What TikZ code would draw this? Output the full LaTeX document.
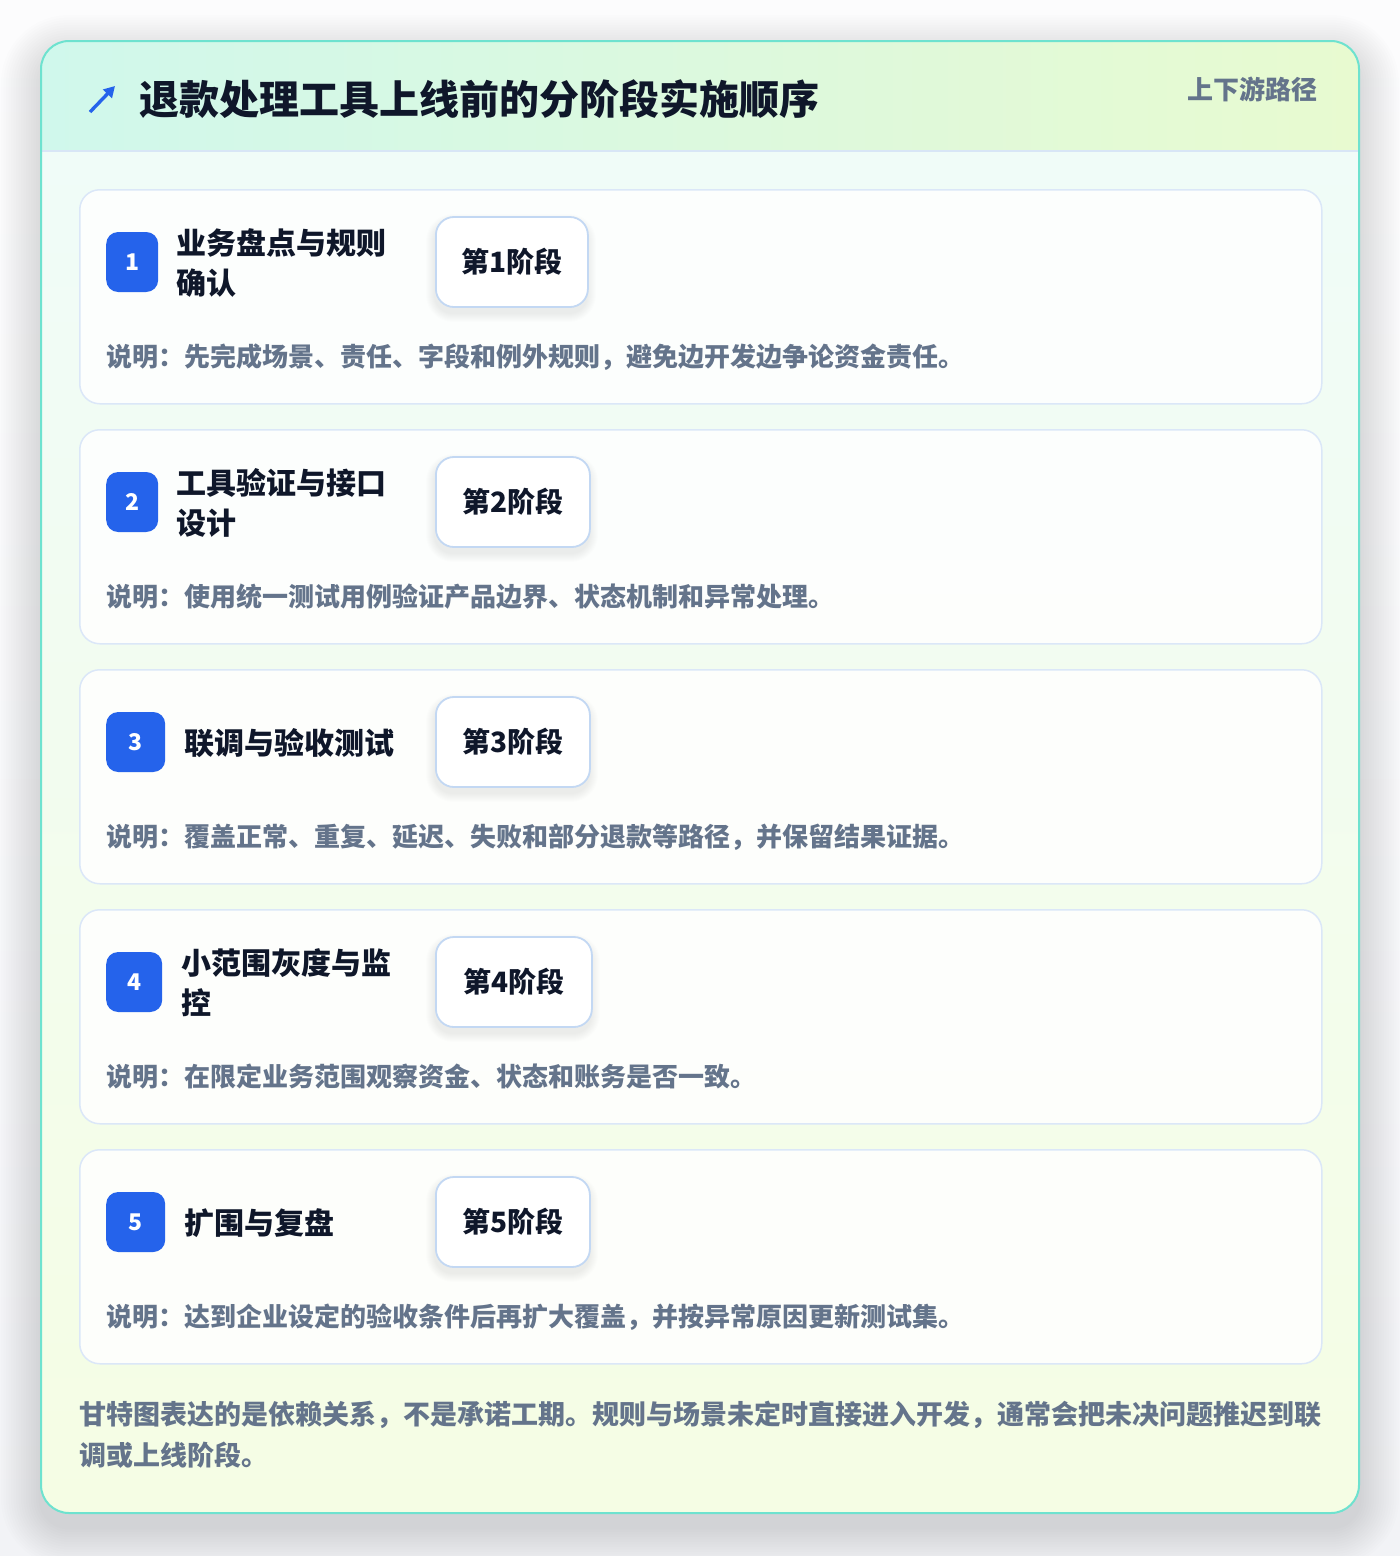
\documentclass[tikz,border=0pt]{standalone}
\usepackage{fontspec}
\setmainfont{Noto Sans CJK SC}
\usetikzlibrary{arrows.meta}
\definecolor{pagetop}{HTML}{FCFCFD}
\definecolor{pagebot}{HTML}{F2F3F6}
\definecolor{outerline}{HTML}{6EE2CF}
\definecolor{hdrL}{HTML}{D0F8EC}
\definecolor{hdrR}{HTML}{E8FAD0}
\definecolor{divider}{HTML}{D8E6F6}
\definecolor{bodyT}{HTML}{F0FCF8}
\definecolor{bodyB}{HTML}{F5FDE4}
\definecolor{cardline}{HTML}{DBE7F8}
\definecolor{pillline}{HTML}{C3D8F3}
\definecolor{accent}{HTML}{2563EB}
\definecolor{ink}{HTML}{0F172A}
\definecolor{muted}{HTML}{64748B}
\definecolor{shadowc}{HTML}{1E293B}
\tikzset{
  cardbox/.style={draw=cardline, line width=1.5pt, fill=white, fill opacity=0.85, draw opacity=1, rounded corners=20pt, inner sep=0pt},
  badge/.style={fill=accent, rounded corners=12pt, minimum height=60pt, inner sep=0pt, text=white, font=\bfseries\fontsize{23}{24}\selectfont},
  titletext/.style={text=ink, align=left, inner sep=0pt, font=\bfseries\fontsize{30}{40}\selectfont},
  pill/.style={draw=pillline, line width=1.8pt, fill=white, rounded corners=18pt, minimum height=90pt, inner sep=0pt, text=ink, font=\bfseries\fontsize{28}{30}\selectfont},
  desctext/.style={text=muted, inner sep=0pt, font=\bfseries\fontsize{26}{30}\selectfont},
  softshadow/.style={fill=shadowc, fill opacity=0.008},
  farshadow/.style={fill=shadowc, fill opacity=0.006},
}
\newcommand{\mkcard}[7]{%
  \node[cardbox, minimum width=1242pt, minimum height=214pt, anchor=north west] (card#1) at (79,#2) {};
  \node[badge, minimum width=#3pt, anchor=west] (b#1) at (106,{#2+73}) {#1};
  \node[titletext, anchor=west] (t#1) at (#4,{#2+74}) {#5};
  \foreach \k in {1,...,9} {
    \fill[softshadow, rounded corners={18+\k}] ({435-\k},{#2+28+6-\k}) rectangle ({435+#6+\k},{#2+118+6+\k});
  }
  \node[pill, minimum width=#6pt, anchor=west] (p#1) at (435,{#2+73}) {第#1阶段};
  \node[desctext, anchor=west] (d#1) at (106,{#2+168}) {说明：#7};
}
\begin{document}
\begin{tikzpicture}[x=1pt,y=-1pt]
\useasboundingbox (0,0) rectangle (1400,1556);
\shade[top color=pagetop, bottom color=pagebot] (0,0) rectangle (1400,1556);
% outer card shadow
\foreach \k in {1,...,16} {
  \fill[farshadow, rounded corners={28+2.5*\k}] ({41-2.5*\k},{41+14-2.5*\k}) rectangle ({1359+2.5*\k},{1513+14+2.5*\k});
}
\fill[white, rounded corners=28pt] (41,41) rectangle (1359,1513);
\begin{scope}
  \clip[rounded corners=28pt] (41,41) rectangle (1359,1513);
  \shade[left color=hdrL, right color=hdrR] (41,41) rectangle (1359,151);
  \shade[top color=bodyT, bottom color=bodyB] (41,151) rectangle (1359,1513);
  \draw[divider, line width=1.5pt] (41,151) -- (1359,151);
\end{scope}
\draw[outerline, line width=2pt, rounded corners=28pt] (41,41) rectangle (1359,1513);
% header
\coordinate (arrS) at (90,112);
\coordinate (arrE) at (115,86);
\draw[accent, line width=3.4pt, -{Triangle[length=11pt,width=12pt]}] (arrS) -- (arrE);
\node[anchor=west, inner sep=0pt, text=ink, font=\bfseries\fontsize{40}{46}\selectfont] (title) at (139,99) {退款处理工具上线前的分阶段实施顺序};
\node[anchor=east, inner sep=0pt, text=muted, font=\bfseries\fontsize{26}{30}\selectfont] (tag) at (1318,89) {上下游路径};
% cards
\mkcard{1}{189}{52}{176}{业务盘点与规则\\确认}{152}{先完成场景、责任、字段和例外规则，避免边开发边争论资金责任。}
\mkcard{2}{429}{52}{176}{工具验证与接口\\设计}{154}{使用统一测试用例验证产品边界、状态机制和异常处理。}
\mkcard{3}{669}{59}{184}{联调与验收测试}{154}{覆盖正常、重复、延迟、失败和部分退款等路径，并保留结果证据。}
\mkcard{4}{909}{56}{181}{小范围灰度与监\\控}{156}{在限定业务范围观察资金、状态和账务是否一致。}
\mkcard{5}{1149}{59}{184}{扩围与复盘}{154}{达到企业设定的验收条件后再扩大覆盖，并按异常原因更新测试集。}
% footer
\node[anchor=north west, inner sep=0pt, align=left, text=muted, font=\bfseries\fontsize{27}{41}\selectfont] (foot) at (79,1401) {甘特图表达的是依赖关系，不是承诺工期。规则与场景未定时直接进入开发，通常会把未决问题推迟到联\\调或上线阶段。};
\end{tikzpicture}
\end{document}
